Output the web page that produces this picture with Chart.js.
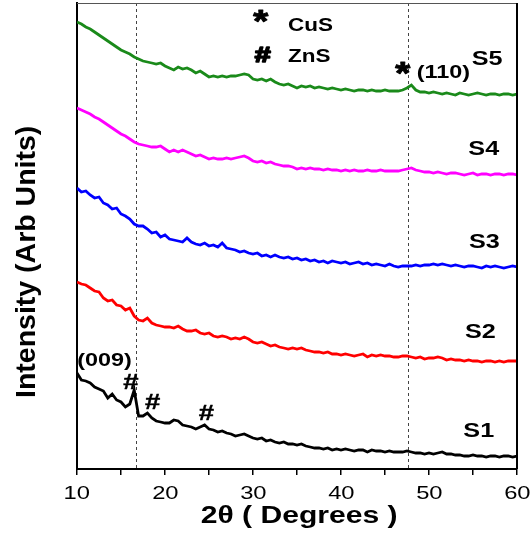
<!DOCTYPE html>
<html lang="en">
<head>
  <meta charset="UTF-8">
  <script src="https://cdn.jsdelivr.net/npm/chart.js"></script>
  <title>XRD patterns S1-S5</title>
  <style>
    body { margin: 0; padding: 0; background: #fff; }
    #wrap { width: 532px; height: 535px; }
  </style>
</head>
<body>
  <div id="wrap"><canvas id="xrdChart"></canvas></div>
  <script>
    // 2theta (degrees)
    const twoTheta = [
      10, 10.5, 11, 11.5, 12, 12.5, 13, 13.5, 14, 14.5,
      15, 15.5, 16, 16.5, 17, 17.5, 18, 18.5, 19, 19.5,
      20, 20.5, 21, 21.5, 22, 22.5, 23, 23.5, 24, 24.5,
      25, 25.5, 26, 26.5, 27, 27.5, 28, 28.5, 29, 29.5,
      30, 30.5, 31, 31.5, 32, 32.5, 33, 33.5, 34, 34.5,
      35, 35.5, 36, 36.5, 37, 37.5, 38, 38.5, 39, 39.5,
      40, 40.5, 41, 41.5, 42, 42.5, 43, 43.5, 44, 44.5,
      45, 45.5, 46, 46.5, 47, 47.5, 48, 48.5, 49, 49.5,
      50, 50.5, 51, 51.5, 52, 52.5, 53, 53.5, 54, 54.5,
      55, 55.5, 56, 56.5, 57, 57.5, 58, 58.5, 59, 59.5,
      60
    ];

    // intensity (arb. units, stacked)
    const s5 = [
      447, 445, 442, 440, 437, 434, 431, 428, 425, 422,
      419, 417, 415, 412, 410, 408, 407, 406, 405, 406,
      403, 401, 399, 402, 400, 401, 399, 396, 398, 395,
      392, 393, 392, 393, 392, 393, 393, 394, 395, 394,
      390, 389, 390, 388, 390, 387, 385, 384, 385, 383,
      381, 383, 382, 383, 381, 382, 381, 380, 381, 380,
      379, 380, 379, 378, 379, 379, 378, 379, 378, 378,
      379, 378, 378, 378, 379, 381, 384, 379, 377, 377,
      376, 377, 376, 375, 376, 375, 374, 376, 375, 374,
      375, 376, 375, 374, 375, 375, 374, 375, 375, 374,
      375
    ];
    const s4 = [
      361, 359, 357, 355, 352, 350, 347, 344, 341, 338,
      335, 333, 330, 327, 325, 324, 323, 322, 322, 323,
      320, 317, 319, 317, 319, 317, 315, 313, 314, 312,
      310, 311, 310, 310, 311, 310, 311, 312, 313, 311,
      308, 307, 308, 306, 307, 305, 304, 303, 303, 302,
      300, 301, 300, 301, 300, 300, 299, 300, 299, 299,
      298, 299, 298, 299, 298, 298, 299, 298, 298, 299,
      298, 298, 298, 298, 299, 300, 301, 299, 298, 297,
      297, 296, 297, 296, 295, 296, 296, 295, 294, 295,
      296, 294, 295, 295, 294, 295, 295, 294, 295, 295,
      294
    ];
    const s3 = [
      281, 277, 278, 274, 271, 272, 266, 264, 260, 261,
      255, 253, 250, 245, 243, 243, 240, 236, 237, 232,
      234, 230, 229, 228, 227, 231, 227, 225, 224, 226,
      223, 224, 222, 226, 221, 220, 219, 217, 218, 216,
      215, 216, 213, 214, 212, 214, 212, 211, 212, 210,
      211, 209, 210, 208, 209, 207, 208, 206, 208, 207,
      206, 207, 205, 206, 207, 205, 206, 204, 205, 204,
      203, 205, 203, 202, 203, 203, 203, 204, 203, 204,
      204, 205, 204, 205, 204, 203, 204, 203, 202, 203,
      203, 202, 201, 203, 202, 203, 202, 201, 202, 203,
      202
    ];
    const s2 = [
      187, 185, 184, 181, 178, 177, 171, 168, 169, 164,
      163, 159, 161, 153, 149, 148, 151, 146, 144, 143,
      142, 142, 141, 143, 140, 138, 138, 139, 136, 135,
      136, 133, 132, 133, 132, 130, 131, 130, 132, 130,
      127, 126, 127, 125, 123, 124, 122, 121, 120, 121,
      120, 121, 119, 118, 117, 117, 116, 117, 115, 115,
      114, 115, 114, 113, 114, 115, 112, 114, 113, 114,
      113, 113, 112, 112, 113, 113, 112, 111, 112, 110,
      111, 111, 112, 111, 109, 110, 109, 109, 108, 109,
      108, 108, 107, 108, 108, 107, 108, 107, 108, 108,
      108
    ];
    const s1 = [
      96, 89, 88, 86, 82, 80, 78, 71, 75, 69,
      67, 62, 65, 79, 53, 53, 56, 51, 48, 47,
      46, 46, 49, 48, 44, 43, 42, 40, 42, 44,
      40, 39, 37, 38, 36, 35, 33, 34, 35, 33,
      31, 30, 31, 28, 29, 27, 26, 27, 25, 25,
      24, 25, 23, 22, 21, 21, 20, 21, 19, 20,
      19, 20, 19, 18, 19, 19, 17, 19, 18, 18,
      17, 18, 17, 17, 17, 18, 17, 16, 16, 15,
      16, 15, 16, 17, 15, 15, 14, 14, 13, 13,
      14, 13, 13, 12, 13, 13, 12, 13, 13, 12,
      13
    ];

    const seriesNames = ['S1', 'S2', 'S3', 'S4', 'S5'];
    const seriesColors = ['#000000', '#ff0000', '#0000ff', '#ff00ff', '#1a8a1a'];
    const seriesValues = [s1, s2, s3, s4, s5];

    // reference lines (2theta)
    const markerLines = [16.7, 47.65];

    // text labels: [text, 2theta, intensity, anchor, kind]
    const notes = [
      ['*', 30.91, 453, 'center', 'star'],
      ['CuS', 33.98, 444.5, 'left', 'key'],
      ['#', 31.08, 414.5, 'center', 'bighash'],
      ['ZnS', 33.98, 414, 'left', 'key'],
      ['*', 47.05, 400.7, 'center', 'star'],
      ['(110)', 48.6, 395.3, 'left', 'hkl'],
      ['S5', 54.85, 411.5, 'left', 'name'],
      ['S4', 54.47, 321.5, 'left', 'name'],
      ['S3', 54.55, 228.2, 'left', 'name'],
      ['S2', 54.09, 138.2, 'left', 'name'],
      ['S1', 53.9, 39, 'left', 'name'],
      ['(009)', 10.03, 107.3, 'left', 'hkl'],
      ['#', 16.11, 87.7, 'center', 'hash'],
      ['#', 18.58, 67.3, 'center', 'hash'],
      ['#', 24.68, 56.2, 'center', 'hash']
    ];

    const FONT = 'Arial, "Liberation Sans", sans-serif';
    const noteStyle = {
      star: { font: 'bold 32px ' + FONT, sx: 1.2, stroke: 1 },
      key: { font: 'bold 18px ' + FONT, sx: 1.25, stroke: 0 },
      bighash: { font: 'bold 22px ' + FONT, sx: 1.3, stroke: 1.6 },
      hash: { font: 'bold 22px ' + FONT, sx: 1.25, stroke: 0.4 },
      hkl: { font: 'bold 18px ' + FONT, sx: 1.3, stroke: 0 },
      name: { font: 'bold 21px ' + FONT, sx: 1.2, stroke: 0 }
    };

    // draws text with its glyph box centred vertically on y
    function putText(ctx, str, x, y, font, align, sx, fitWidth, stroke) {
      ctx.save();
      ctx.font = font;
      ctx.textAlign = 'left';
      ctx.textBaseline = 'alphabetic';
      const m = ctx.measureText(str);
      const gw = m.actualBoundingBoxLeft + m.actualBoundingBoxRight;
      if (fitWidth) sx = fitWidth / gw;
      const w = gw * sx;
      const left = align === 'center' ? x - w / 2 : x;
      ctx.translate(left, y);
      ctx.scale(sx, 1);
      const bx = m.actualBoundingBoxLeft;
      const by = (m.actualBoundingBoxAscent - m.actualBoundingBoxDescent) / 2;
      ctx.fillStyle = '#000';
      ctx.fillText(str, bx, by);
      if (stroke) {
        ctx.strokeStyle = '#000';
        ctx.lineWidth = stroke;
        ctx.lineJoin = 'round';
        ctx.strokeText(str, bx, by);
      }
      ctx.restore();
    }

    const overlay = {
      id: 'overlay',
      beforeDatasetsDraw(chart) {
        const ctx = chart.ctx;
        const xs = chart.scales.x;
        const area = chart.chartArea;
        ctx.save();
        ctx.strokeStyle = '#444';
        ctx.lineWidth = 1;
        ctx.setLineDash([3, 3]);
        markerLines.forEach(v => {
          const px = Math.round(xs.getPixelForValue(v)) + 0.5;
          ctx.beginPath();
          ctx.moveTo(px, area.top);
          ctx.lineTo(px, area.bottom);
          ctx.stroke();
        });
        ctx.restore();
      },
      afterDraw(chart) {
        const ctx = chart.ctx;
        const xs = chart.scales.x;
        const ys = chart.scales.y;
        const area = chart.chartArea;

        // frame: top and right
        ctx.save();
        ctx.strokeStyle = '#555';
        ctx.lineWidth = 1;
        ctx.beginPath();
        ctx.moveTo(area.left, area.top + 0.5);
        ctx.lineTo(area.right, area.top + 0.5);
        ctx.stroke();
        ctx.strokeStyle = '#000';
        ctx.lineWidth = 2;
        ctx.beginPath();
        ctx.moveTo(area.right, area.top);
        ctx.lineTo(area.right, area.bottom);
        ctx.stroke();
        ctx.restore();

        // x tick labels
        xs.ticks.forEach(t => {
          if (t.value % 10 !== 0) return;
          putText(ctx, String(t.value), xs.getPixelForValue(t.value), area.bottom + 23.5,
            '19px ' + FONT, 'center', 1.25);
        });

        // axis titles
        putText(ctx, '2θ ( Degrees )', (area.left + area.right) / 2 + 1.7, area.bottom + 47,
          'bold 23px ' + FONT, 'center', 1, 196);
        ctx.save();
        ctx.translate(28.3, 262);
        ctx.rotate(-Math.PI / 2);
        putText(ctx, 'Intensity (Arb Units)', 0, 0, 'bold 28px ' + FONT, 'center', 1, 270);
        ctx.restore();

        // annotations
        notes.forEach(([txt, tx, ty, anchor, kind]) => {
          const st = noteStyle[kind];
          putText(ctx, txt, xs.getPixelForValue(tx), ys.getPixelForValue(ty), st.font, anchor, st.sx, 0, st.stroke);
        });
      }
    };

    const datasets = seriesNames.map((name, i) => ({
      label: name,
      data: twoTheta.map((t, j) => ({ x: t, y: seriesValues[i][j] })),
      borderColor: seriesColors[i],
      borderWidth: 2.8,
      pointRadius: 0,
      tension: 0,
      fill: false
    }));

    new Chart(document.getElementById('xrdChart'), {
      type: 'line',
      data: { datasets: datasets },
      options: {
        responsive: true,
        maintainAspectRatio: false,
        animation: false,
        layout: { padding: { top: 3, right: 15, left: 0, bottom: 0 } },
        plugins: {
          legend: { display: false },
          tooltip: { enabled: false }
        },
        scales: {
          x: {
            type: 'linear',
            min: 10,
            max: 60,
            afterFit: s => { s.height = 66; },
            border: { display: true, color: '#000', width: 2 },
            grid: { drawOnChartArea: false, drawTicks: true, tickLength: 6, color: '#000', lineWidth: 1.5 },
            ticks: { display: false, stepSize: 5, autoSkip: false }
          },
          y: {
            min: 0,
            max: 466,
            afterFit: s => { s.width = 77; },
            border: { display: true, color: '#000', width: 2 },
            grid: { display: false },
            ticks: { display: false }
          }
        }
      },
      plugins: [overlay]
    });
  </script>
</body>
</html>
